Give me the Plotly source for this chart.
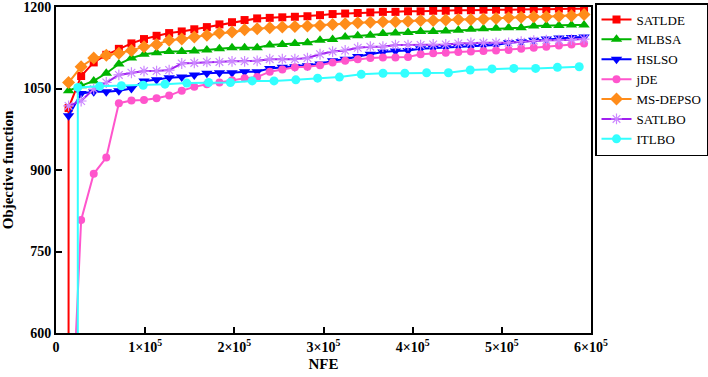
import plotly.graph_objects as go

# ---------------- data ----------------
STEP_A = 14100   # NFE spacing of recorded points (most algorithms)
STEP_B = 24450   # NFE spacing of recorded points (ITLBO)

SATLDE = [300, 1014, 1073, 1098, 1112, 1123, 1133, 1141, 1147, 1152, 1155, 1159, 1163, 1168, 1172,
          1176, 1179, 1180, 1181, 1182, 1183, 1185, 1187, 1188, 1189, 1190, 1191, 1191,
          1192, 1192, 1193, 1193, 1194, 1194, 1195, 1195, 1195, 1196, 1196, 1196, 1197, 1197, 1197]
SATLDE_IDX = [1] + list(range(1, 43))

MLBSA = [1046, 1055, 1064, 1078, 1095, 1106, 1113, 1116, 1118, 1118, 1119, 1121, 1123, 1125,
         1125, 1125, 1130, 1131, 1133, 1134, 1139, 1140, 1145, 1147, 1148, 1151, 1152, 1153,
         1155, 1155, 1156, 1157, 1159, 1160, 1161, 1162, 1162, 1165, 1166, 1166, 1167, 1167]

HSLSO = [1000, 1041, 1044, 1044, 1046, 1050, 1064, 1066, 1070, 1071, 1075, 1078, 1079, 1079,
         1081, 1081, 1087, 1089, 1090, 1092, 1095, 1101, 1104, 1109, 1113, 1117, 1119, 1120,
         1123, 1124, 1125, 1127, 1127, 1128, 1130, 1134, 1136, 1139, 1141, 1143, 1144, 1145]

JDE = [298, 808, 893, 923, 1023, 1028, 1029, 1032, 1037, 1046, 1053, 1058, 1061, 1065,
       1069, 1071, 1081, 1085, 1089, 1090, 1093, 1098, 1101, 1104, 1106, 1107, 1107, 1108,
       1113, 1115, 1116, 1117, 1118, 1119, 1120, 1121, 1123, 1125, 1127, 1129, 1131, 1133]

MS_DEPSO = [1061, 1090, 1106, 1111, 1115, 1120, 1127, 1131, 1139, 1141, 1145, 1148, 1152, 1154,
            1158, 1160, 1162, 1163, 1164, 1165, 1166, 1168, 1169, 1171, 1172, 1173, 1173, 1174,
            1175, 1175, 1176, 1177, 1177, 1178, 1179, 1180, 1181, 1182, 1182, 1183, 1184, 1186]

SATLBO = [1018, 1027, 1049, 1061, 1075, 1079, 1082, 1082, 1084, 1096, 1097, 1099, 1099, 1100,
          1100, 1101, 1104, 1104, 1104, 1106, 1113, 1118, 1120, 1125, 1127, 1127, 1130, 1130,
          1130, 1131, 1131, 1133, 1134, 1134, 1134, 1134, 1136, 1138, 1139, 1139, 1140, 1141]

ITLBO = [300, 1052, 1054, 1055, 1056, 1058, 1060, 1061, 1061, 1064, 1064, 1066, 1069, 1071,
         1076, 1078, 1078, 1079, 1079, 1084, 1086, 1087, 1087, 1089, 1090]
ITLBO_IDX = [1] + list(range(1, 25))

IDX_A = list(range(1, 43))

X_TICKS = [0, 100000, 200000, 300000, 400000, 500000, 600000]
X_TICK_TEXT = ["0", "1×10<sup>5</sup>", "2×10<sup>5</sup>", "3×10<sup>5</sup>",
               "4×10<sup>5</sup>", "5×10<sup>5</sup>", "6×10<sup>5</sup>"]
Y_TICKS = [600, 750, 900, 1050, 1200]

# ---------------- figure ----------------
series = [
    ("SATLDE", SATLDE, SATLDE_IDX, STEP_A, "#ff0000", dict(symbol="square", size=8, color="#ff0000")),
    ("MLBSA", MLBSA, IDX_A, STEP_A, "#00b400", dict(symbol="triangle-up", size=10, color="#00b400")),
    ("HSLSO", HSLSO, IDX_A, STEP_A, "#0000ff", dict(symbol="triangle-down", size=10, color="#0000ff")),
    ("jDE", JDE, IDX_A, STEP_A, "#ff55cc", dict(symbol="circle", size=8, color="#ff55cc")),
    ("MS-DEPSO", MS_DEPSO, IDX_A, STEP_A, "#ff8c1a", dict(symbol="diamond", size=10, color="#ff8c1a")),
    ("SATLBO", SATLBO, IDX_A, STEP_A, "#a020f0",
     dict(symbol="asterisk-open", size=9, color="#cc88ff", line=dict(color="#cc88ff", width=1.2))),
    ("ITLBO", ITLBO, ITLBO_IDX, STEP_B, "#33ffff", dict(symbol="circle", size=9, color="#33ffff")),
]

fig = go.Figure()
for name, vals, idx, step, col, mk in series:
    fig.add_trace(go.Scatter(
        x=[i * step for i in idx], y=vals, name=name, mode="lines+markers",
        line=dict(color=col, width=2), marker=mk,
    ))

tick_font = dict(family="Liberation Serif", size=14, color="black", weight="bold")
title_font = dict(family="Liberation Serif", size=15, color="black", weight="bold")
fig.update_layout(
    width=708, height=377,
    margin=dict(l=56, r=117, t=7, b=44),
    paper_bgcolor="white", plot_bgcolor="white",
    font=dict(family="Liberation Serif", color="black"),
    showlegend=True,
    legend=dict(
        xref="container", yref="container",
        x=0.8404, y=0.992, xanchor="left", yanchor="top",
        bordercolor="black", borderwidth=1.5, bgcolor="white",
        font=dict(family="Liberation Serif", size=13, color="black"),
        tracegroupgap=0, itemwidth=30,
    ),
    xaxis=dict(
        range=[0, 600000], tickvals=X_TICKS, ticktext=X_TICK_TEXT,
        showline=True, linecolor="black", linewidth=2, mirror=True,
        ticks="inside", ticklen=6, tickwidth=2, tickcolor="black",
        showgrid=False, zeroline=False, automargin=False,
        ticklabeloverflow="allow",
        tickfont=tick_font,
        title=dict(text="NFE", font=title_font, standoff=5),
    ),
    yaxis=dict(
        range=[600, 1200], tickvals=Y_TICKS,
        showline=True, linecolor="black", linewidth=2, mirror=True,
        ticks="inside", ticklen=6, tickwidth=2, tickcolor="black",
        showgrid=False, zeroline=False, automargin=False,
        ticklabeloverflow="allow",
        tickfont=tick_font,
        title=dict(text="Objective function", font=title_font, standoff=6),
    ),
)

fig.write_html(
    "out.html",
    config={"displayModeBar": False},
    post_script="document.body.style.margin='0';document.body.style.padding='0';",
)
